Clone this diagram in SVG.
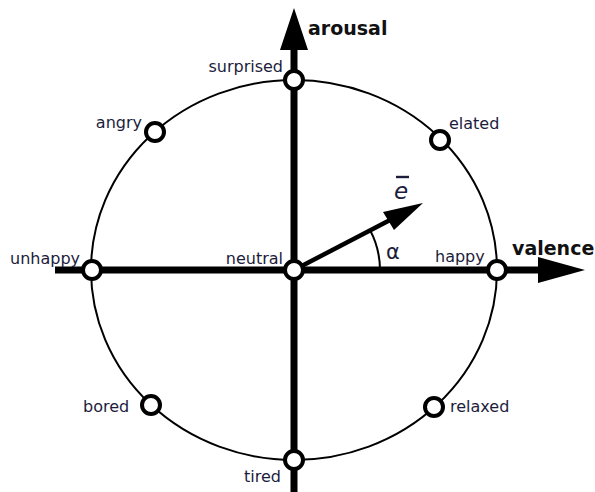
<svg xmlns="http://www.w3.org/2000/svg" width="595" height="492" viewBox="0 0 595 492">
<style>
.lbl{font-family:"DejaVu Sans",sans-serif;font-size:16px;fill:#1c1c3c}
.ax{font-family:"DejaVu Sans",sans-serif;font-size:19px;font-weight:bold;fill:#111}
.node{fill:#fff;stroke:#000;stroke-width:4}
.axis{stroke:#000;stroke-width:7;fill:none}
</style>
<rect width="595" height="492" fill="#fff"/>
<g id="connectors">
<ellipse cx="294" cy="270" rx="203" ry="190" fill="none" stroke="#000" stroke-width="2"/>
<line class="axis" x1="294" y1="492" x2="294" y2="45"/>
<polygon points="294,8 280,50 308,50" fill="#000"/>
<line class="axis" x1="55" y1="270" x2="545" y2="270"/>
<polygon points="585,270 538,257 538,283" fill="#000"/>
<line x1="294" y1="270" x2="392" y2="219" stroke="#000" stroke-width="4.5"/>
<polygon points="423,203 383,212 394,230" fill="#000"/>
<path d="M380,270 A86,86 0 0 0 370,230" fill="none" stroke="#000" stroke-width="2"/>
</g>
<g id="labels">
<text class="ax" x="308" y="35">arousal</text>
<text class="ax" x="512" y="255">valence</text>
<text x="394" y="199" font-family="DejaVu Sans,sans-serif" font-style="italic" font-size="23" fill="#1c1c3c">e</text>
<line x1="396" y1="177" x2="409" y2="177" stroke="#1c1c3c" stroke-width="2.4"/>
<text x="386" y="259" font-family="DejaVu Sans,sans-serif" font-size="21" fill="#1c1c3c">α</text>
</g>
<g id="n-surprised"><circle class="node" cx="294" cy="80" r="9"/><text class="lbl" x="283" y="72" text-anchor="end">surprised</text></g>
<g id="n-angry"><circle class="node" cx="155" cy="132" r="9"/><text class="lbl" x="142" y="128" text-anchor="end">angry</text></g>
<g id="n-elated"><circle class="node" cx="440" cy="140" r="9"/><text class="lbl" x="449" y="129">elated</text></g>
<g id="n-unhappy"><circle class="node" cx="92" cy="270" r="9"/><text class="lbl" x="10" y="264">unhappy</text></g>
<g id="n-neutral"><circle class="node" cx="294" cy="270" r="9"/><text class="lbl" x="283" y="264" text-anchor="end">neutral</text></g>
<g id="n-happy"><circle class="node" cx="497" cy="270" r="9"/><text class="lbl" x="435" y="262">happy</text></g>
<g id="n-bored"><circle class="node" cx="151" cy="405" r="9"/><text class="lbl" x="83" y="412">bored</text></g>
<g id="n-relaxed"><circle class="node" cx="434" cy="407" r="9"/><text class="lbl" x="450" y="412">relaxed</text></g>
<g id="n-tired"><circle class="node" cx="294" cy="460" r="9"/><text class="lbl" x="244" y="482">tired</text></g>
</svg>
